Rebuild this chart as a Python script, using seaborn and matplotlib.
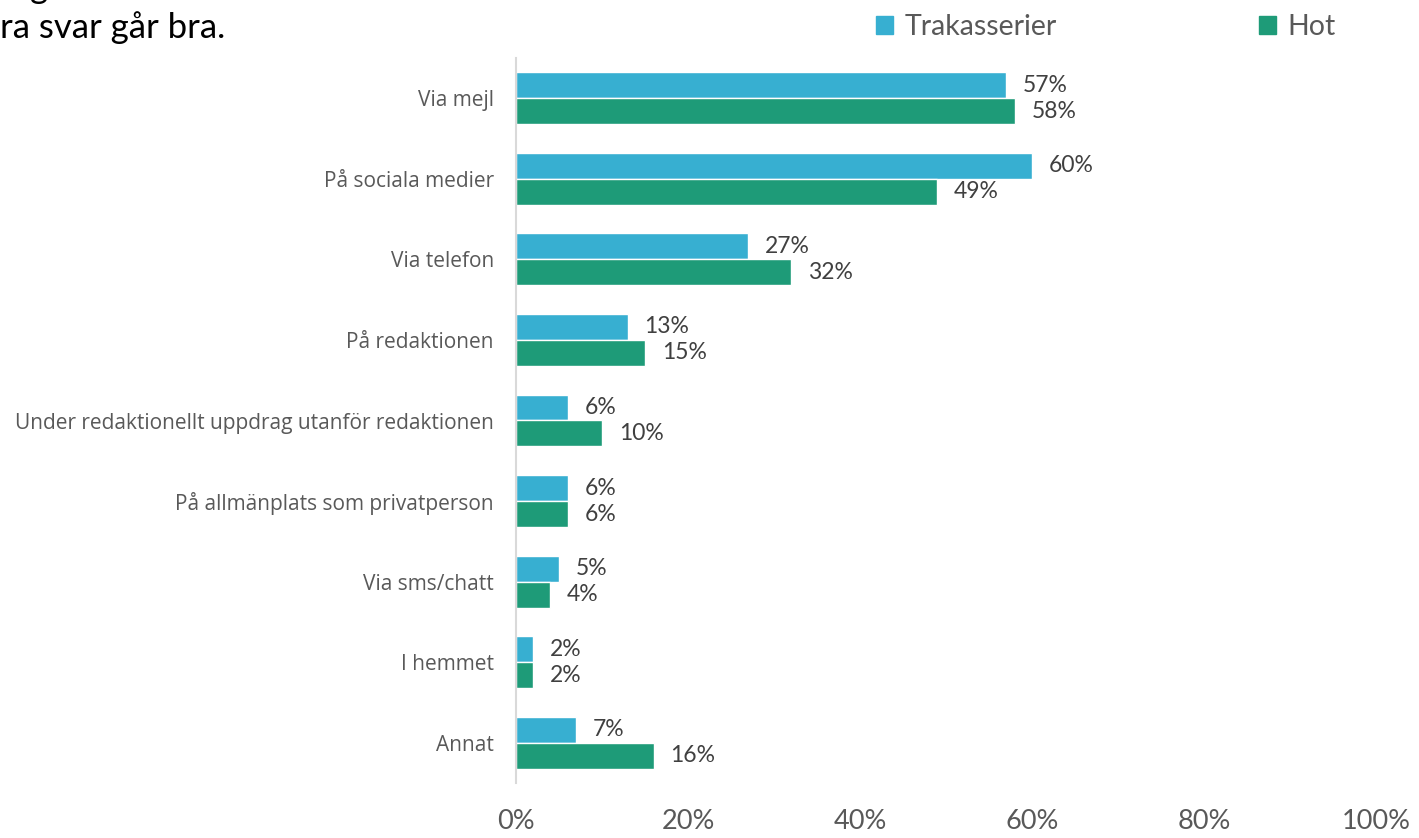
import matplotlib
matplotlib.use("Agg")
import matplotlib.pyplot as plt
import matplotlib.patches as mpatches
import pandas as pd
import seaborn as sns

categories = [
    "Via mejl",
    "På sociala medier",
    "Via telefon",
    "På redaktionen",
    "Under redaktionellt uppdrag utanför redaktionen",
    "På allmänplats som privatperson",
    "Via sms/chatt",
    "I hemmet",
    "Annat",
]
trakasserier = [57, 60, 27, 13, 6, 6, 5, 2, 7]
hot = [58, 49, 32, 15, 10, 6, 4, 2, 16]
series = ["Trakasserier", "Hot"]
colors = ["#37AFD1", "#1E9B78"]
x_ticks = [0, 20, 40, 60, 80, 100]

# long form table for seaborn
df = pd.DataFrame({
    "kategori": categories * 2,
    "andel": trakasserier + hot,
    "serie": [series[0]] * len(categories) + [series[1]] * len(categories),
})

sns.set_theme(style="white")
plt.rcParams["font.family"] = ["Lato", "DejaVu Sans"]

fig = plt.figure(figsize=(14.19, 8.38), dpi=100)
ax = fig.add_axes([516 / 1419, 1 - 783 / 838, 860 / 1419, 725 / 838])

sns.barplot(data=df, y="kategori", x="andel", hue="serie", orient="h",
            palette=colors, width=0.645, edgecolor="white", linewidth=1,
            saturation=1, legend=False, ax=ax)

for cont in ax.containers:
    ax.bar_label(cont, fmt="%g%%", padding=12, fontsize=16.5, color="#404040")

ax.set_xlim(0, 100)
ax.set_xticks(x_ticks)
ax.set_xticklabels([f"{t}%" for t in x_ticks], fontsize=19.5, color="#595959")
ax.tick_params(axis="x", length=0, pad=19)
ax.tick_params(axis="y", length=0, pad=16)
for lbl in ax.get_yticklabels():
    lbl.set_fontfamily(["Open Sans", "DejaVu Sans"])
    lbl.set_fontsize(15)
    lbl.set_color("#595959")
ax.set_xlabel("")
ax.set_ylabel("")
for s in ["top", "right", "bottom"]:
    ax.spines[s].set_visible(False)
ax.spines["left"].set_color("#D9D9D9")
ax.spines["left"].set_linewidth(1.5)
ax.grid(False)

# legend
handles = [mpatches.Patch(color=c, label=s) for c, s in zip(colors, series)]
fig.legend(handles=handles, loc="center left", bbox_to_anchor=(862 / 1419, 1 - 27 / 838),
           ncol=2, frameon=False, fontsize=20.5, handlelength=0.6, handleheight=0.6,
           handletextpad=0.4, columnspacing=7.1, borderpad=0, labelcolor="#595959")

# cut-off text from the slide
fig.text(0.0, 1 - 38 / 838, "ra svar går bra.", fontsize=25, color="black", va="baseline")
fig.text(30 / 1419, 1 + 2 / 838, "g", fontsize=25, color="black", va="baseline")

fig.savefig("out.png", dpi=100)
